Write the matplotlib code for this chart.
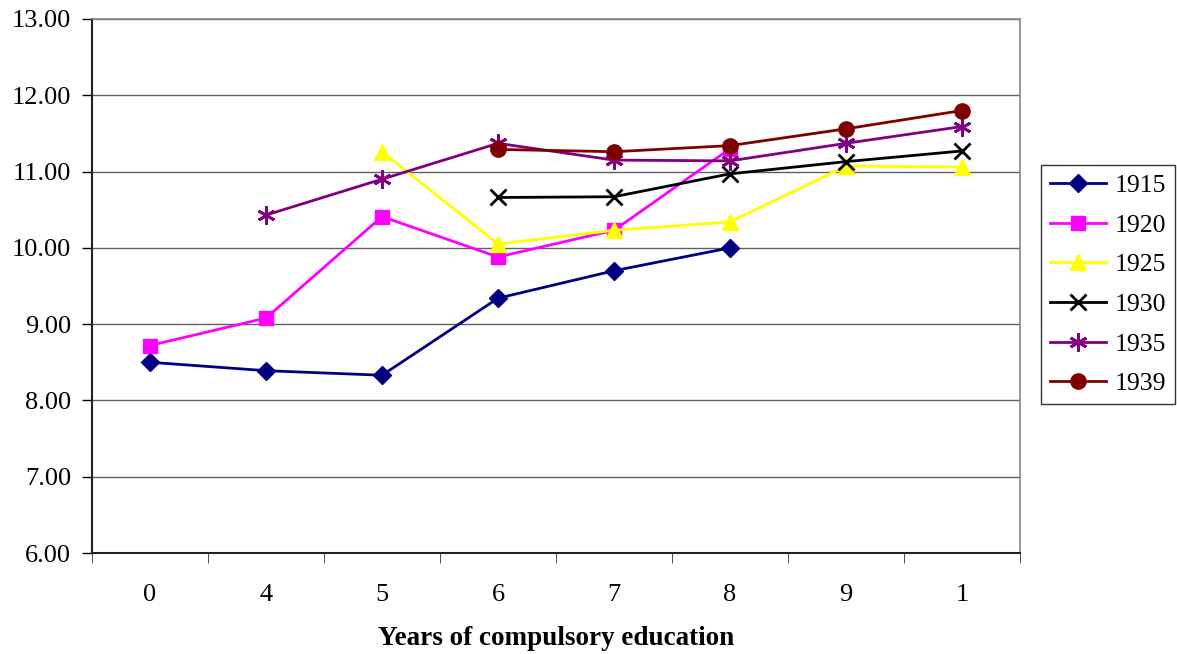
import numpy as np
import matplotlib.pyplot as plt

plt.rcParams['font.family'] = ['Liberation Serif', 'DejaVu Serif']

categories = ['0', '4', '5', '6', '7', '8', '9', '1']
nan = np.nan
y1915 = [8.50, 8.39, 8.33, 9.34, 9.70, 10.00, nan, nan]
y1920 = [8.72, 9.08, 10.41, 9.88, 10.23, 11.30, nan, nan]
y1925 = [nan, nan, 11.26, 10.05, 10.23, 10.34, 11.07, 11.06]
y1930 = [nan, nan, nan, 10.66, 10.67, 10.97, 11.13, 11.27]
y1935 = [nan, 10.43, 10.90, 11.37, 11.15, 11.14, 11.37, 11.59]
y1939 = [nan, nan, nan, 11.29, 11.26, 11.34, 11.56, 11.80]

series = [
    ('1915', y1915, '#000080', 'D', 9),
    ('1920', y1920, '#FF00FF', 's', 10),
    ('1925', y1925, '#FFFF00', '^', 12),
    ('1930', y1930, '#000000', 'x', 11),
    ('1935', y1935, '#800080', (6, 2, 0), 13),
    ('1939', y1939, '#800000', 'o', 11),
]

fig = plt.figure(figsize=(11.77, 6.54), dpi=100)
ax = fig.add_axes([0.0782, 0.1544, 0.7884, 0.8166])

x = np.arange(len(categories))
for name, vals, col, mk, ms in series:
    mew = 2 if mk in ('x', (6, 2, 0)) else 1
    ax.plot(x, vals, color=col, lw=2, marker=mk, ms=ms, mew=mew,
            mec=col, mfc=col, label=name, zorder=3)

ax.set_xlim(-0.5, len(categories) - 0.5)
ax.set_ylim(6, 13)
ax.set_yticks(np.arange(6, 14, 1))
ax.set_yticklabels([f'{v:.2f}' for v in np.arange(6, 14, 1)], fontsize=19)
ax.yaxis.grid(True, color='#606060', lw=1)
ax.set_axisbelow(True)

ax.set_xticks(x)
ax.set_xticklabels(categories, fontsize=19)
ax.tick_params(axis='x', which='major', length=0, pad=22)
ax.set_xticks(np.arange(-0.5, len(categories), 1), minor=True)
ax.tick_params(axis='x', which='minor', length=7, direction='out', color='#333333')
ax.tick_params(axis='y', length=7, direction='out', width=1, pad=8)

for side in ['left', 'bottom']:
    ax.spines[side].set_color('#222222')
    ax.spines[side].set_linewidth(1.5)
for side in ['top', 'right']:
    ax.spines[side].set_color('#888888')
    ax.spines[side].set_linewidth(1.2)

ax.set_xlabel('Years of compulsory education', fontsize=19.5, fontweight='bold', labelpad=15)

leg = ax.legend(loc='upper left', bbox_to_anchor=(1.0226, 0.7266), fontsize=18.5,
                frameon=True, fancybox=False, edgecolor='black', borderpad=0.35,
                handlelength=2.2, labelspacing=0.65, handletextpad=0.3, borderaxespad=0)
leg.get_frame().set_linewidth(1.0)

fig.savefig('out.png', dpi=100, facecolor='white')
